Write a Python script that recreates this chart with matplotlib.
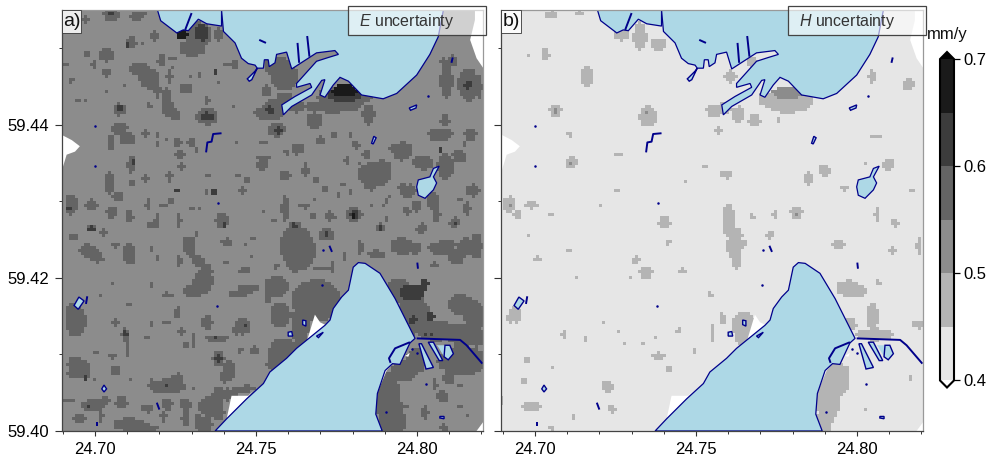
import numpy as np
import matplotlib
matplotlib.use("Agg")
import matplotlib.pyplot as plt
from matplotlib.colors import ListedColormap, BoundaryNorm
from matplotlib.patches import Polygon, Rectangle
from matplotlib.ticker import MultipleLocator, FormatStrFormatter

plt.rcParams['font.family'] = ['Liberation Sans', 'DejaVu Sans']
plt.rcParams['mathtext.fontset'] = 'custom'
plt.rcParams['mathtext.it'] = 'Liberation Sans:italic'
plt.rcParams['mathtext.rm'] = 'Liberation Sans'

LEVELS = [0.40, 0.45, 0.50, 0.55, 0.60, 0.65, 0.70]
BAND_COLORS = ['#e6e6e6', '#b4b4b4', '#8c8c8c', '#646464', '#3c3c3c', '#1a1a1a']
LON_RANGE = (24.6896, 24.8205)
LAT_RANGE = (59.4000, 59.4550)
PATCH_SPAN = 210   # patch coordinates run 0..210 across the map
GRID_N = 141       # cells of the field raster
E_BASE = 0.525
H_BASE = 0.425

# raster patches: column, row, col radius, row radius, value
E_PATCHES = [
 # north
 (65,19,6,4,.575),(68,12,6,6,.575),(70,11,3,4,.625),(60.5,12,3,2,.675),(78,12,2,3,.575),(25,2,4,3,.575),(25,2,1.5,1,.625),
 (12,5,1.5,2,.575),(37,3,3,2,.575),(40,2,3,1,.575),(47,12,1,2.5,.575),(22.5,22,3.5,3.5,.575),(35,16,2.5,3,.575),(33,17,1,1,.625),
 (22.5,31,2,2,.575),(5,35,2,1,.575),(44,34,5,5,.575),(39,29,5,3,.575),(48,40,1.5,4,.575),(54,33,1.5,3,.575),(62.5,39,3,2.5,.575),
 (52.5,43,2,4,.575),(53,49,3,4,.575),(57,52,2,3,.575),(29,49.5,3,3,.575),(29,49,2,1.5,.625),(12,45,1,1,.575),(44,47.5,1,2,.575),
 (72.5,53,5,4,.575),(72.5,53,3,2,.625),(72.5,45,1,2,.575),(76.5,31,1.5,1,.625),(82,27,1,1,.575),(50,25,2,3,.575),(56,24,2,1,.575),
 (102,40,2,3,.575),(86,47.5,1,1,.575),(97.5,51,1.5,2,.575),(16,27,1,2,.575),(2.5,27,1,1,.575),(13,22,1.5,1.5,.575),(31,37,1,1,.575),
 (22,40,1,1,.575),(65,32.5,1,1,.575),(69,32.5,1,1,.575),(78,36,1,1,.575),(55,29,1,1,.575),(46,13,2,2,.575),(41,17,1,1,.575),
 (105,50,5,5,.575),(104,50,2,2,.625),(100,52,2,3,.575),(111,44,4,3,.575),(117,48,4,3,.575),(126,55,4,4,.575),(135,48,14,3,.575),
 (141,43,13,5,.575),(141,42,8,4,.625),(141,40,6,3,.675),(153,52,3,5,.575),(111,33,7,7,.575),(107,28,6,5,.575),(86,27,2,2,.575),
 (107,59,4,3,.575),(108,60,1.5,1.5,.625),(116,69,1.5,2,.575),(101,66,2,1,.575),(129,64,2,1,.575),
 (191,55,2,3,.575),(187,62,4,3,.575),(204,62,3,3,.575),(199,73,3,3,.575),(167.5,32.5,3,3,.575),(192,35,3,9,.575),(203,37,5,8,.575),
 (203,37,2,2,.625),(195,25,2,3,.575),(191,26,2,2,.575),(209,38,1,6,.575),(172,91,3,3,.575),(205,90,3,3,.575),
 # west middle
 (25,66,1.5,4,.575),(29,59,4,3,.575),(33,64,4,3,.575),(58,66,2,2,.575),(48,67,1.5,1,.575),(53,65,1,1,.575),(65,66,2,2,.575),
 (67.5,70,1.5,1.5,.575),(59,72,2.5,2,.575),(42,62,1.5,2,.575),(48,62,1,1,.575),(35,77,2,4,.575),(36,76,1,1,.625),(42,84,1.5,2,.575),
 (35,86,1.5,2,.575),(54,83,1.5,3,.575),(60,78,1.5,1.5,.575),(73,82.5,1.5,1.5,.575),(58,90,1,1,.625),(76,91,1.5,1.5,.625),
 (90,90,1.5,1.5,.575),(72,91,1,1,.575),(87.5,82,1.5,1,.575),(92,85,1.5,1.5,.575),(100,77,3,3,.575),(100,74,4,1,.575),(80,105,3.5,3.5,.575),
 (81,107,1.5,1,.625),(55,95,1.5,1.5,.575),(51,97.5,2,1,.575),(43,97,1,3,.575),(25,101,2.5,3,.575),(15,97,3,2.5,.575),(5,97,3,5,.575),
 (4,99,1.5,1.5,.625),(34,103,2,3,.575),(46,107,3,2,.575),(48,104,1,2,.575),(59,105,1,4,.575),(15,109,2.5,1.5,.575),(15,109,2,1,.625),
 (21,111,1.5,2.5,.575),(6,113.5,3,1.5,.575),(27,118,1.5,1,.575),(16,122,4,2.5,.575),(35,122,2,5,.575),(45,119,1.5,1,.575),(48,124,1,1.5,.575),
 (59,125,1,3.5,.575),(62,115,1.5,2,.575),(65,120,2,3,.575),(68,125,3,3,.575),(72,130,3,3,.575),(91,130,3,1.5,.575),(82,116,2.5,2,.575),
 (91,117.5,1,1,.575),(95,114,1,1,.575),(100,100,1,1,.575),(67.5,112,1,1.5,.575),(82,126,1.5,1,.575),(95,122.5,1,1,.575),(87.5,66.5,1,1,.575),
 (65,99,1,1,.575),(69,99,1,1,.575),(24,86,2,6,.575),(28,93,3,2,.575),(8,45,1,1,.575),(20,143,1,1,.575),
 # east middle
 (156,82,8,6,.575),(160,78,4,3,.575),(154,87,3,3,.575),(117,118,8,10,.575),(116,126,3,5,.575),(111.5,99,2,6,.575),(116,107.5,3,2,.575),
 (116,107.5,2,1,.625),(132,112,4,3,.575),(132,112,1.5,1.5,.625),(146,102,4,3.5,.575),(146,102,2,2.5,.625),(145.5,103,1,1,.675),
 (125,102.5,1.5,1.5,.575),(134,103,2.5,2,.575),(131.5,89,1.5,2,.575),(159,108.5,2,2,.575),(159,108.5,1,1,.625),(179.5,109,2.5,2.5,.575),
 (196,106,2.5,2.5,.575),(196,106,1,1,.625),(186,103,1,3,.575),(206,90,2.5,3,.575),(202,99,2,3,.575),(199,95,1.5,1,.575),(172,100,2,2,.575),
 (177,98,2,3,.575),(174,90,3,3,.575),(170,88,2,2,.575),(170,70,5,4,.575),(166.5,69,4,2,.575),(169,73,3,2,.575),(180.5,76,5,3.5,.575),
 (191.5,78,4,6,.575),(198,72.5,3,3,.575),(190,62,5,3,.575),(189,70,1,1,.625),(201,66.5,1,1,.575),(192,55,1.5,2,.575),(125.5,57,3,2,.575),
 (107,60,4,3,.575),(129,65,2,1.5,.575),(136,62,1.5,1.5,.575),(144,62,1.5,1.5,.575),(146.5,67,2,2,.575),(152,72,2,2,.575),(119,69,2,2,.575),
 (112,71,1,2,.575),(121.5,80,1.5,3.5,.575),(111.5,82.5,2.5,2.5,.575),(126.5,85,2,1.5,.575),(138,92,1.5,1,.575),(121,98,3,1,.575),
 (105.5,105,1.5,1.5,.575),(162,104,1,1,.575),(170,118,6,4,.575),(176.5,119,3,3,.575),(189,119,6,3,.575),(197,123,4,4,.575),(207,118,3,6,.575),
 (157,122,4,2,.575),(149,119,1.5,3,.575),(141,123,1,2,.575),(130,129,4,1,.575),(135,128,1,3,.575),(107,128,1,2,.575),(185,95,3,4,.575),
 (142,75,1,2,.575),(148,76,1,1,.575),(140,87,1,1,.575),(144,91,1,1,.575),(162,95,1,1,.575),(160,98,1,1,.575),(164,92.5,1,1,.575),
 (154,97,1,1,.575),(125.5,94,1,1,.575),(134,100,1,1,.575),(117,72,1,1,.575),(187,102,2,4,.575),
 # south west
 (7,155,5,8,.575),(5,153,3,6,.575),(32,162,2,3,.575),(32,161.5,1,2,.625),(33,169,1,4,.575),(27,156,2,2,.575),(52,156,2,1,.575),
 (58,151,1.5,3,.575),(72.5,156,2.5,4,.575),(87,160,2,2,.575),(90,158,4,4,.575),(91,158,1,1,.625),(60,160,1.5,2,.575),(42.5,164,1.5,1,.575),
 (62,167.5,2,1.5,.575),(66,165,1,4,.575),(77,164,6,1.5,.575),(76,164,1,1,.625),(78,174,3,3.5,.575),(78,174,2,2,.625),(83,180,3,5,.575),
 (81,183,2,3,.575),(89,170,2,1,.575),(96,170,2.5,2,.575),(26,173,2.5,1,.575),(27,180,2,2.5,.575),(7,177,4,4,.575),(12,180,2,5,.575),
 (8,181,5,3,.575),(12,184,1,1,.625),(4,195,3,1,.575),(16,197.5,6,3,.575),(14,197.5,1,1,.625),(22,195,2,2,.575),(30,196,3,3,.575),
 (20,203,1,3,.575),(9,204,3,2,.575),(53,188,9,3.5,.575),(58,185,3,3.5,.575),(45,187,1.5,3,.575),(53,188,1,1,.625),(53,197,2.5,3,.575),
 (43,199,3,2,.575),(62,197,3,3,.575),(62,204,2,4,.575),(51,203,1.5,2.5,.575),(34,207,8,3,.575),(42,209,6,2,.575),(78,193,3,5,.575),
 (73,198,4,5,.575),(78,201,3,4,.575),(71,207,4,4,.575),(83,192,3,3,.575),(87,190,3,2,.575),(92,189,4,1.5,.575),(68,203,1,2,.575),
 (66,140,5,3,.575),(70,137,5,3,.575),(93,139,5,2,.575),(88,142,5,1.5,.575),(53,142,3,1,.575),(34,147,1.5,1.5,.575),(45,137,1,1,.575),
 (26,137,1,1,.575),(103,143,1.5,4,.575),(45,157,1,1,.575),(17,171,1,1,.575),(34,185,1,1,.575),(17,184,1,1,.575),(66,189,1,1,.575),
 (13,120,4,3,.575),(18,124,3,2,.575),(33,122,2,5,.575),(27,117,2,1,.575),(64,118,3,5,.575),(71,135,4,6,.575),
 # around the south bay
 (127,145,12,10,.575),(119,157,4,12,.575),(109,152,5,6,.575),(107,138,6,5,.575),(110,172,7,8,.575),(106,177,4,3,.575),(118,120,8,10,.575),
 (163,195,6,14,.575),(165,205,6,12,.575),(171,180,6,5,.575),(200,175,12,7,.575),(177,175,5,6,.575),(168,140,6,6,.575),(175,150,6,12,.575),
 (171,155,5,8,.575),(179,153,5,8,.575),(199,147,6,5,.575),(206,153,5,8,.575),(200,162,8,5,.575),(207,163,4,5,.575),(187,160,9,5,.575),
 (175,141,6,4,.625),(181,137,2,3,.625),(184,153,2,2,.625),(175,155,2,2,.625),(181.5,162,1,1,.625),(185,162.5,1,1,.625),(193,184,3,3,.575),
 (186.5,187,1,3,.575),(199,187,1.5,1,.575),(171,198,2,1,.575),(181,201,2,3,.575),(191,209,2,2,.575),(202,203,1,1,.575),(192,117,6,2,.575),
 (169,117,4,3,.575),(202,118,4,4,.575),(186,127,3,1,.575),(149,118,1,3,.575),(190,193,3,3,.575),(199,198,1,1,.575),
]

H_PATCHES = [
 (60,12,4,3,.475),(69,13,3,7,.475),(78,17,4,3,.475),(25,2,3,2,.475),(39,1,2,1,.475),(22,22,2,3,.475),(13,22,1,1,.475),
 (43,33,3,5,.475),(27,50,3,3,.475),(27,50,1,1,.525),(73,53,4,5,.475),(72,51,1,1,.525),(35,76,3,3,.475),(35,76,1,1,.525),
 (59,72,2,1,.475),(34,62,2,1,.475),(111,49,3,3,.475),(106,50,4,3,.475),(118,52,3,4,.475),(126,55,3,3,.475),(114,33,3,3,.475),
 (125,26,3,3,.475),(130,44,2,3,.475),(143,45,12,6,.475),(143,41,8,3,.525),(151,46,3,2,.475),(185,33,2,3,.475),(203,37,3,3,.475),
 (108,60,2,2,.475),(138,55,1,1,.475),(187,63,3,1,.475),(193,77,3,3,.475),(161,80,3,3,.475),(153,84,2,4,.475),(112,82,3,2,.475),
 (92,86,1,1,.475),(171,89,2,1,.475),(205,90,1,1,.475),(181,77,1,1,.475),(113,105,3,8,.475),(116,112,4,3,.475),(147,101,3,3,.475),
 (147,102,1,1,.525),(187,102,1,4,.475),(196,106,2,2,.475),(125,103,1,2,.475),(136,102,1,2,.475),(81,106,3,3,.475),(4,97,3,4,.475),
 (4,98,1,1,.525),(15,97,3,2,.475),(8,102,2,2,.475),(58,90,1,1,.475),(50,97,1,1,.475),(101,78,1,1,.475),(25,102,1,1,.475),(14,113,1,1,.475),
 (116,118,4,6,.475),(117,126,2,3,.475),(121,116,2,1,.475),(134,112,2,2,.475),(116,111,2,1,.475),(168,117,3,2,.475),(195,120,2,2,.475),
 (208,118,1,5,.475),(173,139,6,4,.475),(178,140,4,3,.475),(188,136,1,2,.475),(185,153,3,7,.475),(174,157,3,3,.475),(186,162,9,3,.475),
 (180,162,3,2,.475),(208,157,3,2,.475),(166,185,7,9,.475),(163,195,6,9,.475),(161,205,4,6,.475),(170,180,3,3,.475),(121,158,6,7,.475),
 (119,163,3,4,.475),(110,154,1.5,3,.475),(105,161,1,4,.475),(96,170,1,1,.475),(83,179,1.5,2,.475),(78,173,3,2,.475),(62,167,1,1,.475),
 (70,166,1,1,.475),(76,164,1,1,.475),(88,160,2,1,.475),(59,160,1,1,.475),(51,156,1,1,.475),(104,142,1,2,.475),(72,131,3,3,.475),
 (67,125,2,2,.475),(90,130,2,1,.475),(64,133,1,1,.475),(38,133,1,1,.475),(18,124,2,1,.475),(34,120,1,1,.475),(83,116,1,2,.475),
 (31,162,1,2,.475),(42,164,1,1,.475),(13,175,1.5,2,.475),(11,185,1.5,2,.475),(26,178,1,1,.475),(53,188,3,3,.475),(15,198,5,2,.475),
 (55,199,2,2,.475),(36,203,1,1,.475),(25,209,2,1,.475),(7,152,3,4,.475),(5,154,3,2,.475),(204,184,1,1,.475),(182,200,1,1,.475),(0,195,1,2,.475),
]

# water bodies as lon, lat rings
INLET_LON = [24.7194,24.7204,24.7254,24.7274,24.7290,24.7321,24.7347,24.7393,24.7393]
INLET_LAT = [59.4550,59.4536,59.4520,59.4524,59.4523,59.4538,59.4532,59.4529,59.4550]
NORTH_LON = [24.7393,24.7399,24.7435,24.7455,24.7476,24.7497,24.7504,24.7523,24.7526,24.7538,24.7541,24.7559,24.7564,24.7595,24.7611,24.7688,24.7745,24.7756,24.7725,24.7688,24.7626,24.7626,24.7668,24.7673,24.7621,24.7580,24.7585,24.7611,24.7673,24.7704,24.7714,24.7699,24.7714,24.7740,24.7761,24.7787,24.7828,24.7895,24.7937,24.7999,24.8040,24.8066,24.8082]
NORTH_LAT = [59.4550,59.4522,59.4507,59.4487,59.4480,59.4478,59.4474,59.4474,59.4485,59.4485,59.4476,59.4481,59.4492,59.4495,59.4473,59.4494,59.4497,59.4492,59.4488,59.4483,59.4454,59.4449,59.4454,59.4449,59.4437,59.4426,59.4413,59.4424,59.4439,59.4458,59.4459,59.4439,59.4436,59.4452,59.4462,59.4457,59.4439,59.4434,59.4441,59.4465,59.4492,59.4515,59.4550]
SOUTH_LON = [24.7373,24.7409,24.7471,24.7523,24.7543,24.7595,24.7626,24.7714,24.7730,24.7740,24.7766,24.7787,24.7802,24.7818,24.7839,24.7885,24.7932,24.7994,24.7978,24.7947,24.7924,24.7901,24.7877,24.7872,24.7892]
SOUTH_LAT = [59.4000,59.4016,59.4042,59.4062,59.4077,59.4095,59.4108,59.4138,59.4145,59.4160,59.4175,59.4184,59.4214,59.4220,59.4219,59.4206,59.4173,59.4121,59.4115,59.4087,59.4088,59.4079,59.4049,59.4022,59.4000]
LAKE_LON = [24.8004,24.8040,24.8051,24.8069,24.8051,24.8061,24.8051,24.8025,24.8004,24.7999]
LAKE_LAT = [59.4328,59.4332,59.4343,59.4346,59.4332,59.4324,59.4315,59.4304,59.4308,59.4319]
SMALL_PONDS = [
 [(24.7473,59.4460),(24.7497,59.4470),(24.7504,59.4474),(24.7487,59.4459),(24.7479,59.4457)],
 [(24.7976,59.4422),(24.7999,59.4426),(24.7997,59.4422),(24.7980,59.4419)],
 [(24.7859,59.4376),(24.7866,59.4385),(24.7873,59.4383),(24.7864,59.4375)],
 [(24.8006,59.4114),(24.8014,59.4114),(24.8051,59.4083),(24.8028,59.4081)],
 [(24.8035,59.4116),(24.8051,59.4116),(24.8080,59.4092),(24.8069,59.4092)],
 [(24.8087,59.4112),(24.8102,59.4112),(24.8113,59.4101),(24.8097,59.4093),(24.8084,59.4097)],
 [(24.6935,59.4164),(24.6950,59.4175),(24.6966,59.4170),(24.6948,59.4159)],
 [(24.7021,59.4055),(24.7028,59.4060),(24.7036,59.4055),(24.7028,59.4051)],
 [(24.7645,59.4145),(24.7655,59.4144),(24.7655,59.4137),(24.7645,59.4139)],
 [(24.7600,59.4129),(24.7611,59.4130),(24.7614,59.4124),(24.7600,59.4124)],
 [(24.7688,59.4124),(24.7709,59.4129),(24.7694,59.4122)],
 [(24.8071,59.4019),(24.8084,59.4019),(24.8084,59.4016),(24.8071,59.4017)],
]
THIN_WATERS = [
 [(24.7629,59.4507),(24.7634,59.4481)],
 [(24.7659,59.4516),(24.7666,59.4489)],
 [(24.7280,59.4524),(24.7300,59.4546)],
 [(24.7510,59.4511),(24.7531,59.4507)],
 [(24.8111,59.4488),(24.8107,59.4481)],
 [(24.7393,59.4389),(24.7367,59.4388),(24.7362,59.4378),(24.7349,59.4377),(24.7345,59.4364)],
 [(24.7978,59.4116),(24.7932,59.4108),(24.7913,59.4095),(24.7918,59.4089)],
 [(24.7999,59.4121),(24.8134,59.4119),(24.8154,59.4112),(24.8203,59.4088)],
 [(24.6972,59.4166),(24.6976,59.4176)],
 [(24.7192,59.4037),(24.7200,59.4028)],
 [(24.7006,59.4012),(24.7006,59.4007)],
 [(24.7728,59.4242),(24.7736,59.4234)],
 [(24.8001,59.4220),(24.8003,59.4212)],
]
DOT_LON = [24.7000,24.7000,24.7383,24.8035,24.7378,24.7707,24.7705,24.8027,24.7904,24.7999,24.7983]
DOT_LAT = [59.4399,59.4346,59.4298,59.4438,59.4163,59.4236,59.4191,59.4062,59.4025,59.4102,59.4107]
NO_DATA = [
 [(24.6896,59.4387),(24.6928,59.4380),(24.6953,59.4372),(24.6938,59.4365),(24.6912,59.4361),(24.6896,59.4339)],
 [(24.8180,59.4550),(24.8206,59.4550),(24.8206,59.4474),(24.8185,59.4487),(24.8165,59.4511),(24.8180,59.4537)],
 [(24.7621,59.4106),(24.7657,59.4116),(24.7683,59.4152),(24.7699,59.4142),(24.7719,59.4138),(24.7704,59.4127),(24.7683,59.4121)],
 [(24.7409,59.4016),(24.7424,59.4046),(24.7476,59.4046),(24.7492,59.4053),(24.7471,59.4042)],
 [(24.7877,59.4049),(24.7901,59.4079),(24.7924,59.4088),(24.7906,59.4079),(24.7885,59.4058)],
 [(24.7963,59.4098),(24.7978,59.4102),(24.7973,59.4097)],
 [(24.8185,59.4000),(24.8206,59.4012),(24.8206,59.4000)],
]
EXTRA_WATER = [(24.8061,59.4112),(24.8087,59.4112),(24.8084,59.4097),(24.8066,59.4110)]


def raster(base, patches):
    # each patch is an ellipse on the raster; a cell takes its value if its centre lies inside
    grid = np.full((GRID_N, GRID_N), base)
    axis = np.linspace(0, PATCH_SPAN, GRID_N)
    cols, rows = np.meshgrid(axis, axis)
    for c, r, rc, rr, v in patches:
        d = np.hypot((cols - c) / rc, (rows - r) / rr)
        inside = d <= 1.05
        grid[inside] = np.maximum(grid[inside], v)
    return grid


lons = np.linspace(*LON_RANGE, GRID_N)
lats = np.linspace(LAT_RANGE[1], LAT_RANGE[0], GRID_N)
cmap = ListedColormap(BAND_COLORS)
cmap.set_under('white')
cmap.set_over('black')
norm = BoundaryNorm(LEVELS, cmap.N)

W, H = 994, 459
fig = plt.figure(figsize=(W / 100, H / 100), dpi=100)
ax_a = fig.add_axes([61.5 / W, (H - 431) / H, 421.5 / W, 421 / H])
ax_b = fig.add_axes([501.5 / W, (H - 431) / H, 421.5 / W, 421 / H])
cax = fig.add_axes([940 / W, (H - 387.5) / H, 14 / W, 335.5 / H])

WATER = '#add8e6'
NAVY = '#00008b'
for ax, base, patches, letter, name in [
    (ax_a, E_BASE, E_PATCHES, 'a)', r'$\mathit{E}$ uncertainty'),
    (ax_b, H_BASE, H_PATCHES, 'b)', r'$\mathit{H}$ uncertainty'),
]:
    mesh = ax.pcolormesh(lons, lats, raster(base, patches), cmap=cmap, norm=norm, shading='nearest',
                         antialiased=False, linewidth=0)
    for ring in NO_DATA:
        ax.add_patch(Polygon(ring, closed=True, fc='white', ec='none', zorder=2))
    ax.add_patch(Polygon(EXTRA_WATER, closed=True, fc=WATER, ec='none', zorder=3))
    for lon_r, lat_r in [(INLET_LON, INLET_LAT), (NORTH_LON, NORTH_LAT), (SOUTH_LON, SOUTH_LAT), (LAKE_LON, LAKE_LAT)]:
        ax.add_patch(Polygon(np.column_stack([lon_r, lat_r]), closed=True, fc=WATER, ec=NAVY, lw=0.9, zorder=3))
    for ring in SMALL_PONDS:
        ax.add_patch(Polygon(ring, closed=True, fc=WATER, ec=NAVY, lw=1.0, zorder=4))
    for line in THIN_WATERS:
        arr = np.array(line)
        ax.plot(arr[:, 0], arr[:, 1], color=NAVY, lw=1.4, zorder=4, solid_capstyle='butt')
    ax.plot(DOT_LON, DOT_LAT, 'o', ms=1.8, color=NAVY, mew=0, zorder=4)

    ax.set_xlim(*LON_RANGE)
    ax.set_ylim(*LAT_RANGE)
    ax.xaxis.set_major_locator(MultipleLocator(0.05))
    ax.xaxis.set_minor_locator(MultipleLocator(0.01))
    ax.yaxis.set_major_locator(MultipleLocator(0.02))
    ax.yaxis.set_minor_locator(MultipleLocator(0.01))
    ax.xaxis.set_major_formatter(FormatStrFormatter('%.2f'))
    ax.yaxis.set_major_formatter(FormatStrFormatter('%.2f'))
    ax.tick_params(axis='x', which='major', length=3.5, width=0.8, color='#333333', labelsize=12, pad=4.5)
    ax.tick_params(axis='y', which='major', length=5, width=0.8, color='#333333', labelsize=12, pad=4)
    ax.tick_params(axis='x', which='minor', length=2, width=0.7, color='#333333')
    ax.tick_params(axis='y', which='minor', length=2.5, width=0.7, color='#333333')
    for side, s in ax.spines.items():
        s.set_color('#444444' if side in ('left', 'bottom') else '#999999')
        s.set_linewidth(0.9)
        s.set_zorder(6)

    ax.add_patch(Rectangle((0.680, 0.9406), 0.327, 0.0689, transform=ax.transAxes, fc='white', alpha=0.6,
                           ec='none', clip_on=False, zorder=7))
    ax.add_patch(Rectangle((0.680, 0.9406), 0.327, 0.0689, transform=ax.transAxes, fc='none',
                           ec='#444444', lw=0.9, clip_on=False, zorder=8))
    ax.text(0.706, 0.9725, name, transform=ax.transAxes, fontsize=11.5, va='center', ha='left', color='#333333', zorder=9)
    ax.add_patch(Rectangle((0, 0.9454), 0.047, 0.0546, transform=ax.transAxes, fc='white', alpha=0.85,
                           ec='#333333', lw=0.7, zorder=7))
    ax.text(0.0235, 0.9727, letter, transform=ax.transAxes, fontsize=14, va='center', ha='center', color='#111111', zorder=9)

ax_b.tick_params(axis='y', labelleft=False)

cb = fig.colorbar(mesh, cax=cax, extend='both', extendfrac=0.022, ticks=[0.4, 0.5, 0.6, 0.7], spacing='proportional')
cb.ax.yaxis.set_major_formatter(FormatStrFormatter('%.1f'))
cb.ax.minorticks_off()
cb.ax.tick_params(length=4, width=0.9, labelsize=12, pad=3)
cb.outline.set_linewidth(1.5)
fig.text(947 / W, (H - 34) / H, 'mm/y', ha='center', va='center', fontsize=12, color='#111111')

fig.savefig('out.png', dpi=100)
